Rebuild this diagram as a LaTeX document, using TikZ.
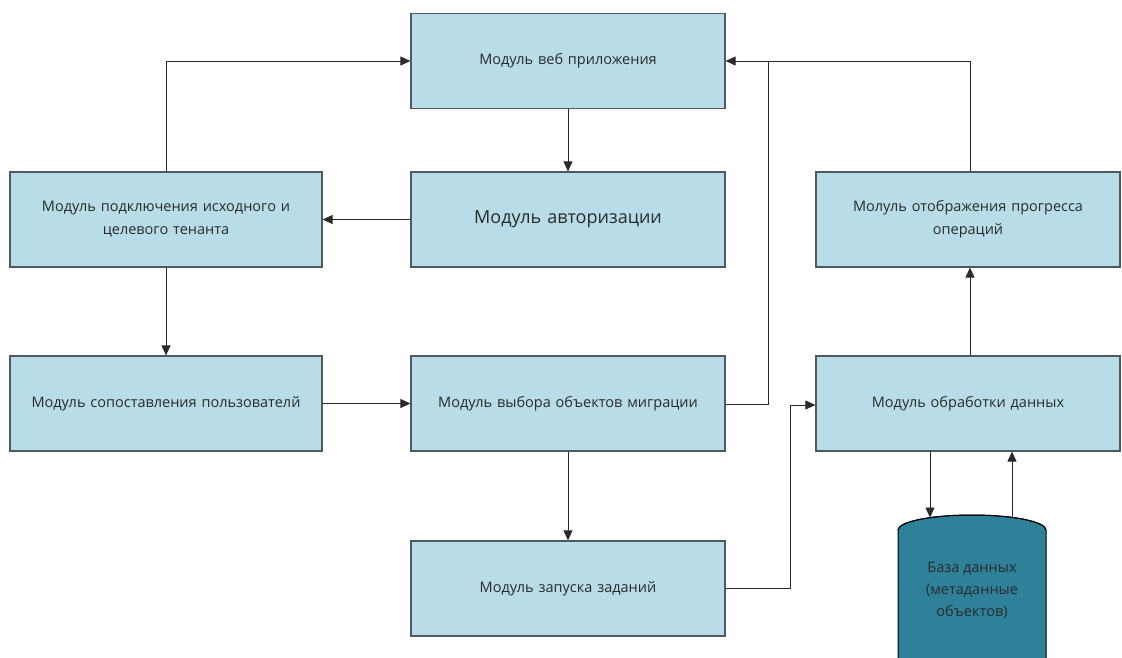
\documentclass[tikz,border=0pt]{standalone}
\usepackage{fontspec}
\setmainfont{Open Sans}
\usetikzlibrary{arrows.meta}
\definecolor{boxfill}{HTML}{B8DDE8}
\definecolor{boxline}{HTML}{505A5E}
\definecolor{txt}{HTML}{2A2A2A}
\definecolor{dbfill}{HTML}{2E8198}
\begin{document}
\begin{tikzpicture}[x=1pt,y=-1pt,
  module/.style={draw=boxline, line width=1.2pt, fill=boxfill, minimum width=314pt, minimum height=95pt,
     text width=300pt, align=center, inner sep=0pt, text=txt, font=\fontsize{14.5}{23}\selectfont},
  conn/.style={draw=txt, line width=0.9pt, -{Triangle[length=10pt,width=9pt]}},
  plain/.style={draw=txt, line width=0.9pt}]
\clip (0,0) rectangle (1122,657);
\fill[white] (0,0) rectangle (1122,657);

\node[module] (web) at (568,61) {Модуль веб приложения};
\node[module, font=\fontsize{18}{23}\selectfont] (auth) at (568,219.5) {Модуль авторизации};
\node[module, minimum width=312pt] (conn) at (166,219.5) {Модуль подключения исходного и\\целевого тенанта};
\node[module, minimum width=312pt] (match) at (166,403.5) {Модуль сопоставления пользователй};
\node[module] (sel) at (568,403.5) {Модуль выбора объектов миграции};
\node[module] (launch) at (568,588.5) {Модуль запуска заданий};
\node[module, minimum width=304pt, text width=280pt] (prog) at (968,219.5) {Молуль отображения прогресса\\операций};
\node[module, minimum width=304pt] (proc) at (968,403.5) {Модуль обработки данных};

% database cylinder
\draw[draw=black, line width=1pt, fill=dbfill] (898,530) -- (898,700) arc[start angle=180, end angle=360, x radius=74, y radius=15] -- (1046,530) arc[start angle=0, end angle=-180, x radius=74, y radius=15] -- cycle;
\draw[draw=black, line width=1pt] (898,530) arc[start angle=180, end angle=360, x radius=74, y radius=15];
\node[text=txt, align=center, font=\fontsize{14.5}{22}\selectfont] (db) at (972,590) {База данных\\(метаданные\\объектов)};
\coordinate (dbin) at (930,517.5);
\coordinate (dbout) at (1012,517.5);

% connectors
\draw[conn] (web.south) -- (auth.north);
\draw[conn] (auth.west) -- (conn.east);
\coordinate (c1) at (166,61);
\draw[conn] (conn.north) -- (c1) -- (web.west |- c1);
\draw[conn] (conn.south) -- (match.north);
\draw[conn] (match.east) -- (sel.west);
\coordinate (c2) at (768,404);
\coordinate (c3) at (768,61);
\draw[conn] (sel.east |- c2) -- (c2) -- (c3) -- (web.east |- c3);
\coordinate (c4) at (970,61);
\draw[plain] (prog.north -| c4) -- (c4) -- (c3);
\draw[conn] (sel.south) -- (launch.north);
\coordinate (c5) at (790,588);
\coordinate (c6) at (790,405);
\draw[conn] (launch.east |- c5) -- (c5) -- (c6) -- (proc.west |- c6);
\draw[conn] (proc.south -| dbin) -- (dbin);
\draw[conn] (dbout) -- (proc.south -| dbout);
\draw[conn] (proc.north -| c4) -- (prog.south -| c4);
\end{tikzpicture}
\end{document}
